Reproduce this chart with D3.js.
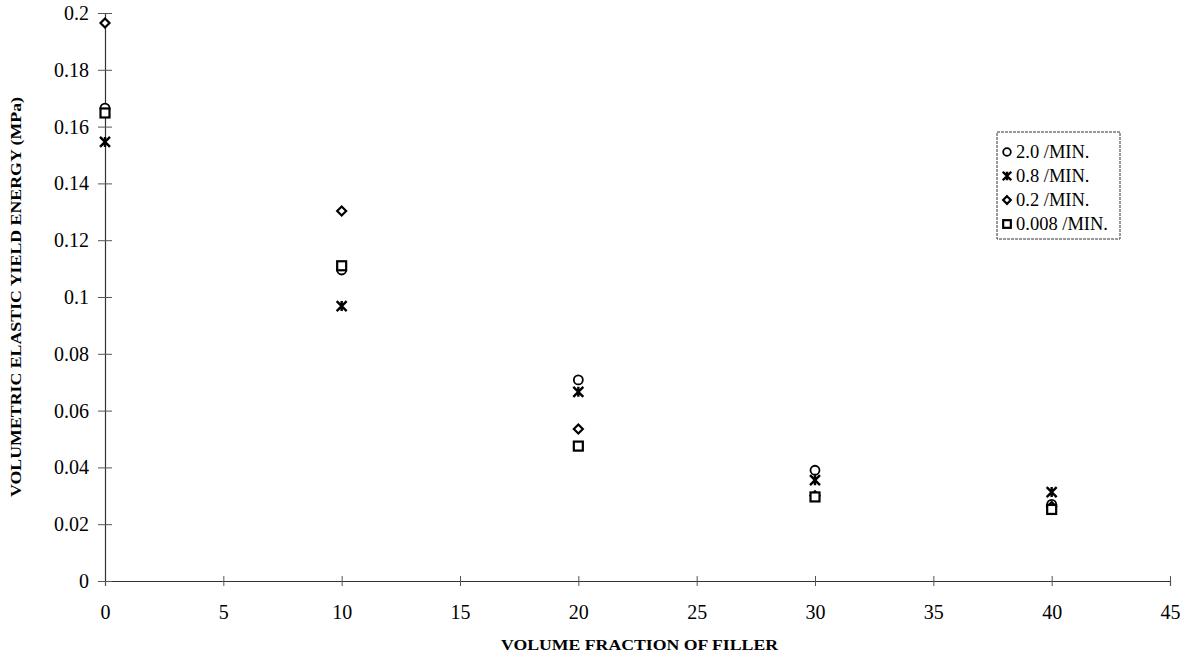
<!DOCTYPE html>
<html><head><meta charset="utf-8">
<script src="https://cdn.jsdelivr.net/npm/d3@7"></script>
<style>body{margin:0;background:#fff;} text{font-family:"Liberation Serif","Times New Roman",serif;}</style>
</head><body><svg id="c" width="1188" height="662"></svg>
<script>
const xVals = [0, 10, 20, 30, 40];
const s20 = [0.1665, 0.1095, 0.0708, 0.0390, 0.0270];
const s08 = [0.1546, 0.0968, 0.0666, 0.0355, 0.0313];
const s02 = [0.1965, 0.1303, 0.0535, 0.0300, 0.0262];
const s0008 = [0.1648, 0.1110, 0.0475, 0.0296, 0.0252];
const seriesNames = ["2.0 /MIN.", "0.8 /MIN.", "0.2 /MIN.", "0.008 /MIN."];
const xTicks = [0,5,10,15,20,25,30,35,40,45];
const yTicks = [0,0.02,0.04,0.06,0.08,0.1,0.12,0.14,0.16,0.18,0.2];

const svg = d3.select("#c");
const x = d3.scaleLinear().domain([0,45]).range([105,1170]);
const y = d3.scaleLinear().domain([0,0.2]).range([581,13]);
const SERIF = "'Liberation Serif','Times New Roman',serif";

// axes
const xa = svg.append("g").attr("transform",`translate(0,${y(0)})`)
  .call(d3.axisBottom(x).tickValues(xTicks).tickSize(5).tickFormat(d3.format("d")));
xa.selectAll(".tick line").attr("y1",-5).attr("y2",5);
const ya = svg.append("g").attr("transform",`translate(${x(0)},0)`)
  .call(d3.axisLeft(y).tickValues(yTicks).tickSize(6).tickFormat(d=>d===0?"0":String(+d.toFixed(2))));
ya.selectAll(".tick line").attr("x1",-7).attr("x2",7);
[xa,ya].forEach(a=>{
  a.attr("font-family",SERIF).attr("font-size",20);
  a.select(".domain").attr("stroke","#333").attr("stroke-width",1.2);
  a.selectAll(".tick line").attr("stroke","#555");
  a.selectAll("text").attr("fill","#000");
});
xa.selectAll("text").attr("y",24).attr("dy","0.71em");
ya.selectAll("text").attr("x",-16);

// titles
svg.append("text").attr("x",(x(0)+x(45))/2 + 2).attr("y",650).attr("text-anchor","middle")
  .attr("font-family",SERIF).attr("font-size",14.5).attr("font-weight","bold")
  .attr("textLength",277).attr("lengthAdjust","spacingAndGlyphs").text("VOLUME FRACTION OF FILLER");
svg.append("text").attr("transform",`translate(21,${y(0.1)}) rotate(-90)`).attr("text-anchor","middle")
  .attr("font-family",SERIF).attr("font-size",14.5).attr("font-weight","bold")
  .attr("textLength",400).attr("lengthAdjust","spacingAndGlyphs").text("VOLUMETRIC ELASTIC YIELD ENERGY (MPa)");

// markers
function drawMarker(g, type, cx, cy, scale){
  scale = scale||1;
  if(type===0){
    g.append("circle").attr("cx",cx).attr("cy",cy).attr("r",4.5*scale).attr("fill","#fff").attr("stroke","#000").attr("stroke-width",1.8);
  } else if(type===1){
    const s=5*scale;
    g.append("path").attr("d",`M${cx-s},${cy-s}L${cx+s},${cy+s}M${cx-s},${cy+s}L${cx+s},${cy-s}M${cx},${cy-s}L${cx},${cy+s}`)
      .attr("stroke","#000").attr("stroke-width",2.4).attr("fill","none");
  } else if(type===2){
    const s=4.5*scale;
    g.append("path").attr("d",`M${cx},${cy-s}L${cx+s},${cy}L${cx},${cy+s}L${cx-s},${cy}Z`)
      .attr("fill","#fff").attr("stroke","#000").attr("stroke-width",2.2);
  } else {
    const s=4.5*scale;
    g.append("rect").attr("x",cx-s).attr("y",cy-s).attr("width",2*s).attr("height",2*s)
      .attr("fill","#fff").attr("stroke","#000").attr("stroke-width",2.2);
  }
}
const allSeries = [s20, s08, s02, s0008];
const pg = svg.append("g");
allSeries.forEach((s,i)=>{
  s.forEach((v,j)=>drawMarker(pg, i, x(xVals[j]), y(v)));
});

// legend
const lg = svg.append("g");
lg.append("rect").attr("x",997).attr("y",132).attr("width",123).attr("height",107)
  .attr("fill","#fff").attr("stroke","#333").attr("stroke-width",1).attr("stroke-dasharray","3,1");
seriesNames.forEach((n,i)=>{
  const cy = 152 + i*24;
  drawMarker(lg, i, 1007, cy, 0.85);
  lg.append("text").attr("x",1016).attr("y",cy+6).attr("font-family",SERIF).attr("font-size",18.5).text(n);
});
</script></body></html>
